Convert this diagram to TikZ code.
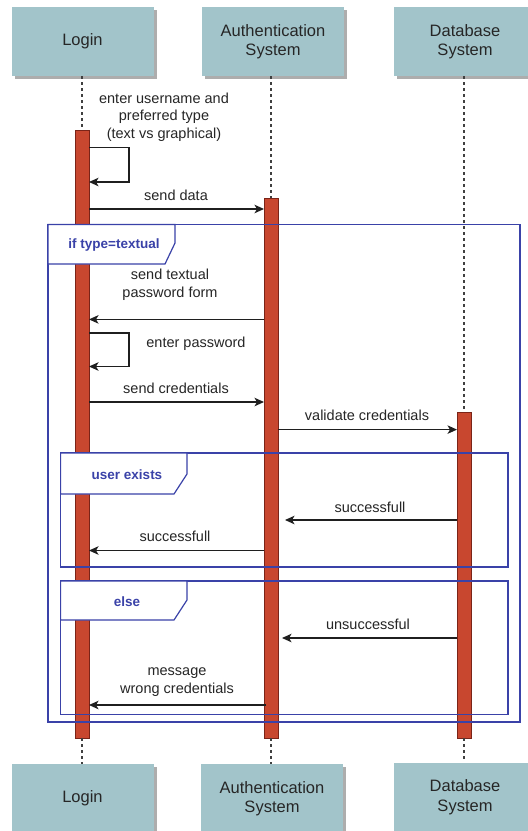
\documentclass[tikz,border=0pt]{standalone}
\usepackage{fontspec}
\setmainfont{Liberation Sans}
\usetikzlibrary{arrows.meta,shadows}
\definecolor{hdr}{HTML}{A2C4CA}
\definecolor{barf}{HTML}{C8472F}
\definecolor{bard}{HTML}{7A2418}
\definecolor{frm}{HTML}{3A42A8}
\definecolor{txt}{HTML}{262626}
\begin{document}
\begin{tikzpicture}[x=1pt,y=-1pt,
  hdrbox/.style={fill=hdr, minimum width=142pt, minimum height=69pt, inner sep=0pt,
    text=txt, align=center, font=\fontsize{16.5}{19.5}\selectfont,
    drop shadow={shadow xshift=3pt,shadow yshift=-3pt,fill=black!32,opacity=1}},
  actbar/.style={fill=barf, draw=bard, line width=0.8pt, minimum width=14pt, inner sep=0pt},
  lifeline/.style={draw=black!75, line width=1.1pt, dash pattern=on 3pt off 3pt},
  msg/.style={draw=black!88, line width=1.3pt, -{Stealth[length=9.5pt,width=8.5pt,inset=2.5pt]}},
  msglabel/.style={text=txt, align=center, font=\fontsize{14.5}{17.5}\selectfont, inner sep=0pt},
  frame/.style={draw=frm, line width=1.2pt},
  tab/.style={draw=frm, line width=1.2pt, fill=white},
  tablabel/.style={text=frm, font=\bfseries\fontsize{13.5}{16}\selectfont, inner sep=0pt}
]
\useasboundingbox (0,0) rectangle (528,831);
\clip (0,0) rectangle (528,831);
\fill[white] (0,0) rectangle (528,831);

% headers
\node[hdrbox] (Lt) at (82.5,41.5) {Login};
\node[hdrbox] (At) at (273,41.5) {Authentication\\System};
\node[hdrbox] (Dt) at (465,41.5) {Database\\System};
\node[hdrbox] (Lb) at (82.5,798.5) {Login};
\node[hdrbox] (Ab) at (272,798.5) {Authentication\\System};
\node[hdrbox] (Db) at (465,797) {Database\\System};

% activation bars
\node[actbar, minimum height=608pt] (LB) at (82,434) {};
\node[actbar, minimum height=540pt] (AB) at (271,468) {};
\node[actbar, minimum height=325.5pt] (DB) at (464,575.25) {};

% lifelines
\draw[lifeline] (Lt.south -| LB.north) -- (LB.north);
\draw[lifeline] (At.south -| AB.north) -- (AB.north);
\draw[lifeline] (Dt.south -| DB.north) -- (DB.north);
\draw[lifeline] (LB.south) -- (Lb.north -| LB.south);
\draw[lifeline] (AB.south) -- (Ab.north -| AB.south);
\draw[lifeline] (DB.south) -- (Db.north -| DB.south);

% frames
\draw[frame] (48,224.5) rectangle (520,722);
\draw[tab] (48,224.5) -- (175,224.5) -- (175,243) -- (165,264) -- (48,264) -- cycle;
\node[tablabel] (F1) at (114,245) {if type=textual};
\draw[frame] (60.6,453) rectangle (508,567);
\draw[tab] (60.6,453) -- (187,453) -- (187,474) -- (174,494) -- (60.6,494) -- cycle;
\node[tablabel] (F2) at (127,474.5) {user exists};
\draw[frame] (60.6,581) rectangle (508,714.5);
\draw[tab] (60.6,581) -- (187,581) -- (187,600) -- (174,620) -- (60.6,620) -- cycle;
\node[tablabel] (F3) at (127,601.5) {else};

% message end points
\coordinate (s1a) at (89,147.5);
\coordinate (s1c) at (89,182);
\coordinate (m2a) at (89,209);   \coordinate (m2b) at (264,209);
\coordinate (m3a) at (264,319.4); \coordinate (m3b) at (89,319.4);
\coordinate (s4a) at (89,333);
\coordinate (s4c) at (89,366.5);
\coordinate (m5a) at (89,402);   \coordinate (m5b) at (264,402);
\coordinate (m6a) at (278,429.6); \coordinate (m6b) at (457,429.6);
\coordinate (m7a) at (457,520);  \coordinate (m7b) at (285,520);
\coordinate (m8a) at (264,550.5); \coordinate (m8b) at (89,550.5);
\coordinate (m9a) at (457,638);  \coordinate (m9b) at (282,638);
\coordinate (m10a) at (266,705); \coordinate (m10b) at (89,705);

% messages
\draw[msg] (s1a) -- ++(40,0) -- ++(0,34.5) -- (s1c);
\node[msglabel] (t1) at (164,117) {enter username and\\preferred type\\(text vs graphical)};
\draw[msg] (m2a) -- (m2b);
\node[msglabel] (t2) at (176,195) {send data};
\draw[msg] (m3a) -- (m3b);
\node[msglabel] (t3) at (170,284.5) {send textual\\password form};
\draw[msg] (s4a) -- ++(40,0) -- ++(0,33.5) -- (s4c);
\node[msglabel] (t4) at (196,343.6) {enter password};
\draw[msg] (m5a) -- (m5b);
\node[msglabel] (t5) at (176,388.4) {send credentials};
\draw[msg] (m6a) -- (m6b);
\node[msglabel] (t6) at (367,415.8) {validate credentials};
\draw[msg] (m7a) -- (m7b);
\node[msglabel] (t7) at (370,507) {successfull};
\draw[msg] (m8a) -- (m8b);
\node[msglabel] (t8) at (175,536) {successfull};
\draw[msg] (m9a) -- (m9b);
\node[msglabel] (t9) at (368,624) {unsuccessful};
\draw[msg] (m10a) -- (m10b);
\node[msglabel] (t10) at (177,682) {message\\wrong credentials};
\end{tikzpicture}
\end{document}
